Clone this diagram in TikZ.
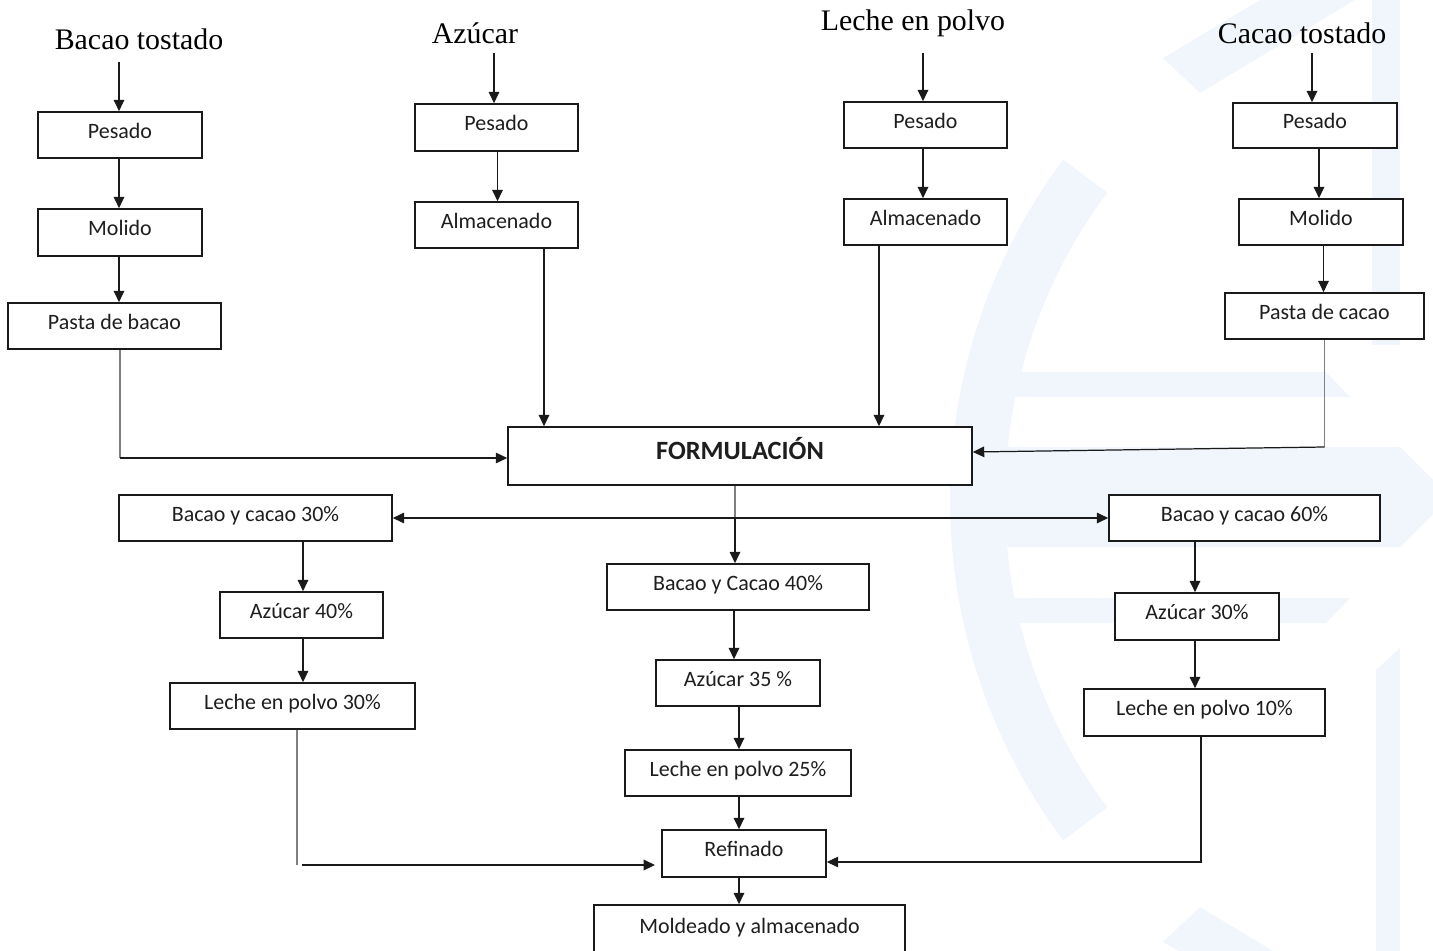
\documentclass[tikz,border=0pt]{standalone}
\usepackage{fontspec}
\setmainfont{Liberation Serif}
\newfontfamily\boxfnt{Carlito}
\usetikzlibrary{arrows.meta}
\definecolor{wmc}{RGB}{240,246,252}
\definecolor{linec}{RGB}{26,26,26}
\definecolor{grayc}{RGB}{128,128,128}
\definecolor{txtc}{RGB}{30,30,30}
\tikzset{
  wm/.style={fill=wmc},
  box/.style={draw=linec, line width=0.9pt, fill=white, inner sep=0pt,
    font=\boxfnt\fontsize{12.5}{14}\selectfont, text=txtc,
    text height=9pt, text depth=5.4pt},
  ttl/.style={font=\fontsize{17}{20}\selectfont, inner sep=0pt, anchor=base},
  arr/.style={draw=linec, line width=0.9pt, -{Triangle[length=6.5pt,width=6pt]}},
  arrthin/.style={draw=linec, line width=0.7pt, -{Triangle[length=6.5pt,width=6pt]}},
  dbl/.style={draw=linec, line width=0.8pt, {Triangle[length=6.5pt,width=6pt]}-{Triangle[length=6.5pt,width=6pt]}},
  gline/.style={draw=grayc, line width=0.6pt},
}
\newcommand\mybox[6]{\node[box, minimum width={(#4-#2)*0.02cm}, minimum height={(#5-#3)*0.02cm}] (#1) at ({(#2+#4)/2},{(#3+#5)/2}) {#6};}
\begin{document}
\begin{tikzpicture}[x=0.02cm,y=-0.02cm]
\useasboundingbox (0,0) rectangle (1433,950);
% watermark
\begin{scope}[shift={(1518,500)}]
\fill[wm] (143.2:568) arc[start angle=143.2,end angle=216.8,radius=568] -- (216.8:513) arc[start angle=216.8,end angle=143.2,radius=513] -- cycle;
\end{scope}
\fill[wm] (1005,372) -- (1326,372) -- (1350,397) -- (1005,397) -- cycle;
\fill[wm] (1003,447) -- (1400,447) -- (1450,497) -- (1400,547) -- (1003,547) -- cycle;
\fill[wm] (1005,598) -- (1350,598) -- (1326,623) -- (1005,623) -- cycle;
\fill[wm] (1163,58) -- (1260,0) -- (1355,0) -- (1200,93) -- cycle;
\fill[wm] (1163,942) -- (1260,1000) -- (1355,1000) -- (1200,907) -- cycle;
\fill[wm] (1372,0) rectangle (1400,345);
\fill[wm] (1400,648) -- (1376,670) -- (1376,955) -- (1400,955) -- cycle;

% titles
\node[ttl] (t1) at (139,50) {Bacao tostado};
\node[ttl] (t2) at (475,43) {Azúcar};
\node[ttl] (t3) at (913,31) {Leche en polvo};
\node[ttl] (t4) at (1302,43) {Cacao tostado};

% boxes
\mybox{p1}{38}{112}{202}{158}{Pesado}
\mybox{m1}{38}{209}{202}{256}{Molido}
\mybox{pb}{8}{303}{221}{349}{Pasta de bacao}
\mybox{p2}{415}{104}{578}{151}{Pesado}
\mybox{al2}{415}{202}{578}{248}{Almacenado}
\mybox{p3}{844}{102}{1007}{148}{Pesado}
\mybox{al3}{844}{199}{1007}{245}{Almacenado}
\mybox{p4}{1233}{103}{1397}{148}{Pesado}
\mybox{m4}{1239}{199}{1403}{245}{Molido}
\mybox{pc}{1225}{293}{1424}{339}{Pasta de cacao}
\node[box, font=\boxfnt\bfseries\fontsize{15}{18}\selectfont, text height=11pt, text depth=6.5pt,
  minimum width={464*0.02cm}, minimum height={58*0.02cm}] (form) at (740,456) {FORMULACIÓN};
\mybox{b30}{119}{495}{392}{541}{Bacao y cacao 30\%}
\mybox{a40}{220}{592}{383}{638}{Azúcar 40\%}
\mybox{l30}{170}{683}{415}{729}{Leche en polvo 30\%}
\mybox{b40}{607}{564}{869}{610}{Bacao y Cacao 40\%}
\mybox{a35}{656}{660}{820}{706}{Azúcar 35 \%}
\mybox{l25}{625}{750}{851}{796}{Leche en polvo 25\%}
\mybox{ref}{662}{830}{826}{877}{Refinado}
\mybox{mold}{594}{905}{905}{955}{Moldeado y almacenado}
\mybox{b60}{1109}{495}{1380}{541}{Bacao y cacao 60\%}
\mybox{a30}{1115}{593}{1279}{640}{Azúcar 30\%}
\mybox{l10}{1084}{689}{1325}{736}{Leche en polvo 10\%}

% column 1
\coordinate (x1) at (119,62);
\draw[arr] (x1) -- (x1 |- p1.north);
\draw[arr] (p1.south -| x1) -- (x1 |- m1.north);
\draw[arr] (m1.south -| x1) -- (x1 |- pb.north);
\coordinate (k1) at (120,458);
\draw[gline] (pb.south -| k1) -- (k1);
\draw[arrthin] (k1) -- (form.west |- k1);

% column 2
\coordinate (x2) at (494,53);
\draw[arr] (x2) -- (x2 |- p2.north);
\coordinate (x2b) at (497.5,0);
\draw[arr] (p2.south -| x2b) -- (al2.north -| x2b);
\coordinate (x2c) at (544,0);
\draw[arr] (al2.south -| x2c) -- (form.north -| x2c);

% column 3
\coordinate (x3) at (923,53);
\draw[arr] (x3) -- (x3 |- p3.north);
\draw[arr] (p3.south -| x3) -- (al3.north -| x3);
\coordinate (x3c) at (879,0);
\draw[arr] (al3.south -| x3c) -- (form.north -| x3c);

% column 4
\coordinate (x4) at (1312,53);
\draw[arr] (x4) -- (x4 |- p4.north);
\coordinate (x4b) at (1319,0);
\draw[arr] (p4.south -| x4b) -- (m4.north -| x4b);
\coordinate (x4c) at (1323.5,0);
\draw[arr] (m4.south -| x4c) -- (pc.north -| x4c);
\coordinate (k4) at (1324.5,447);
\coordinate (e4) at (972,452);
\draw[gline] (pc.south -| k4) -- (k4);
\draw[arrthin] (k4) -- (form.east |- e4);

% centre branch
\coordinate (j) at (735,518);
\draw[gline] (form.south -| j) -- (j);
\draw[arr] (j) -- (b40.north -| j);
\draw[dbl] (b30.east) -- (b60.west);
\coordinate (cx1) at (734,0);
\draw[arr] (b40.south -| cx1) -- (a35.north -| cx1);
\coordinate (cx2) at (739,0);
\draw[arr] (a35.south -| cx2) -- (l25.north -| cx2);
\draw[arr] (l25.south -| cx2) -- (ref.north -| cx2);
\draw[arr] (ref.south -| cx2) -- (mold.north -| cx2);

% left branch
\coordinate (lx) at (303,0);
\draw[arr] (b30.south -| lx) -- (a40.north -| lx);
\draw[arr] (a40.south -| lx) -- (l30.north -| lx);
\coordinate (k5) at (297,865);
\draw[gline] (l30.south -| k5) -- (k5);
\coordinate (s5) at (302,865);
\coordinate (r5) at (655,865);
\draw[arr] (s5) -- (r5);

% right branch
\coordinate (rx) at (1195,0);
\draw[arr] (b60.south -| rx) -- (a30.north -| rx);
\draw[arr] (a30.south -| rx) -- (l10.north -| rx);
\coordinate (k6) at (1201,862);
\draw[arrthin] (l10.south -| k6) -- (k6) -- (ref.east |- k6);
\end{tikzpicture}
\end{document}
